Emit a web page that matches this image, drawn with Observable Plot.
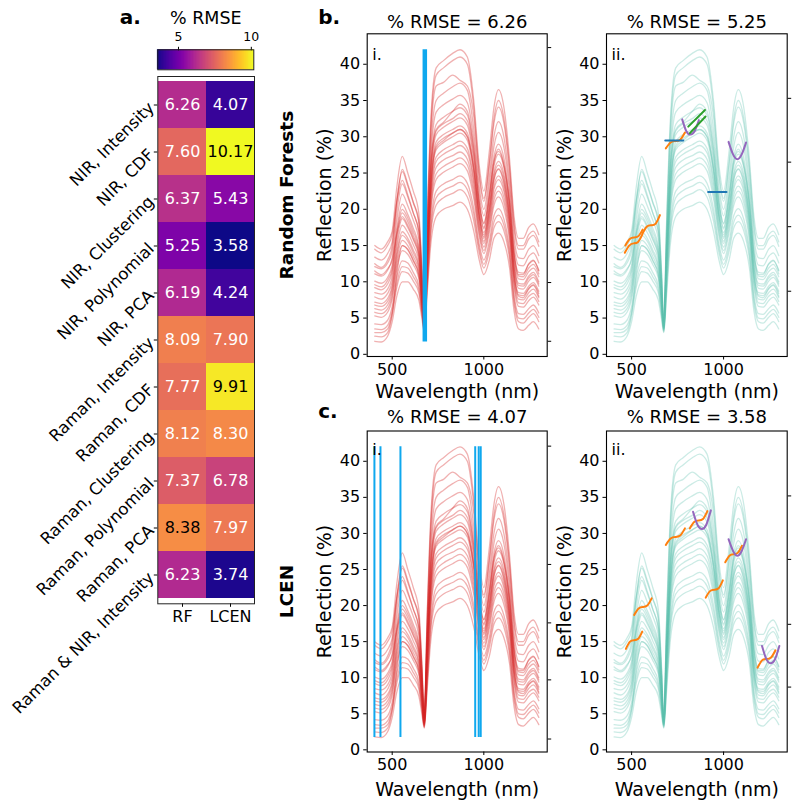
<!DOCTYPE html>
<html>
<head>
<meta charset="utf-8">
<script src="https://cdn.jsdelivr.net/npm/d3@7"></script>
<script src="https://cdn.jsdelivr.net/npm/@observablehq/plot@0.6"></script>
<style>
  body { margin: 0; background: white; }
  #fig { position: relative; width: 796px; height: 804px; font-family: "DejaVu Sans", sans-serif; }
  #fig > svg { position: absolute; }
</style>
</head>
<body>
<div id="fig"></div>
<script>
// ---------- heatmap data: % RMSE per feature set and model ----------
const methods = [
  "NIR, Intensity", "NIR, CDF", "NIR, Clustering", "NIR, Polynomial", "NIR, PCA",
  "Raman, Intensity", "Raman, CDF", "Raman, Clustering", "Raman, Polynomial", "Raman, PCA",
  "Raman & NIR, Intensity"
];
const models = ["RF", "LCEN"];
const rmseRF   = [6.26, 7.60, 6.37, 5.25, 6.19, 8.09, 7.77, 8.12, 7.37, 8.38, 6.23];
const rmseLCEN = [4.07, 10.17, 5.43, 3.58, 4.24, 7.90, 9.91, 8.30, 6.78, 7.97, 3.74];
const colorbarTicks = [5, 10];

// ---------- NIR reflection spectra (%) ----------
const wavelengths = [405, 440, 475, 500, 525, 555, 585, 615, 645, 662, 675, 690, 710, 740, 780, 830,
                     870, 910, 945, 975, 1000, 1030, 1055, 1080, 1110, 1140, 1165, 1190, 1215, 1245, 1270, 1300];
const spectra = [
  [15, 14.5, 15.5, 17, 23, 27.3, 25, 22.5, 19.5, 12, 4.5, 18, 32, 39.5, 40.5, 41.5, 42, 41, 35, 26, 22.5, 28, 34, 36.5, 34, 27, 19, 16, 16, 17.5, 18, 16.5],
  [12.5, 12, 13, 15, 21, 25.5, 23.5, 21, 18.5, 11.5, 4.4, 17.5, 31, 38.5, 39.5, 40.5, 41, 40, 34, 25, 21.5, 26.5, 32.5, 35, 32.5, 26, 18, 15, 15, 16.5, 17, 15.5],
  [13.4, 13, 13.9, 15.5, 21.2, 25.2, 23.2, 20.9, 18.1, 11.2, 4.3, 16.8, 30, 37, 37.5, 38.5, 37.8, 37, 32.8, 24.4, 21.1, 26.2, 31.8, 34.1, 31.8, 25.2, 17.4, 14.5, 14.5, 15.9, 16.4, 14.9],
  [12.1, 11.8, 12.6, 14.3, 19.7, 23.5, 21.7, 19.5, 16.9, 10.5, 4.2, 15.8, 28.3, 35, 36, 36.9, 37.4, 36.4, 31, 23.1, 20, 24.7, 30, 32.1, 29.9, 23.7, 16.1, 13.3, 13.2, 14.5, 15, 13.6],
  [11.1, 10.8, 11.6, 13.3, 18.5, 22.1, 20.5, 18.5, 15.9, 9.9, 4.1, 15, 26.9, 33.4, 34.4, 35.2, 35.7, 34.7, 29.6, 22.1, 19.1, 23.5, 28.6, 30.6, 28.5, 22.5, 15.1, 12.3, 12.2, 13.5, 14, 12.6],
  [14.5, 14, 15, 16.5, 21, 24, 22, 19.5, 17, 10.5, 4.2, 15, 26, 31, 32, 33.5, 34.5, 33.5, 28.5, 21, 18, 22, 26.5, 28, 26, 21, 14, 11, 11, 12.5, 13, 11.5],
  [10.1, 9.8, 10.6, 12.3, 17.3, 20.7, 19.3, 17.4, 14.9, 9.3, 3.9, 14.2, 25.5, 31.7, 32.7, 33.5, 34, 33, 28.2, 21.1, 18.1, 22.3, 27.2, 29, 27, 21.3, 14.1, 11.3, 11.2, 12.4, 12.9, 11.6],
  [9.6, 9.3, 10.2, 11.8, 16.8, 20, 18.8, 16.9, 14.5, 9.1, 3.9, 13.8, 25, 30.8, 31.8, 32.5, 33.2, 32.2, 27.5, 20.5, 17.5, 21.5, 26.5, 28.3, 26.2, 20.8, 13.6, 10.8, 10.7, 11.9, 12.4, 11.1],
  [9.2, 8.9, 9.7, 11.4, 16.3, 19.5, 18.3, 16.4, 14.1, 8.9, 3.8, 13.5, 24.4, 30.3, 31.3, 32.1, 32.6, 31.6, 26.9, 20.2, 17.3, 21.3, 25.9, 27.6, 25.7, 20.3, 13.2, 10.4, 10.3, 11.4, 11.9, 10.7],
  [8.5, 8.3, 9, 10.8, 15.5, 18.7, 17.5, 15.8, 13.5, 8.5, 3.8, 13, 23.5, 29.3, 30.3, 31, 31.5, 30.5, 26, 19.5, 16.8, 20.5, 25, 26.6, 24.8, 19.5, 12.5, 9.8, 9.7, 10.8, 11.3, 10],
  [11.5, 11, 11.8, 13, 16.5, 19, 17.8, 16, 13.8, 8.6, 3.8, 12.8, 23, 28.8, 29.8, 30.5, 31, 30, 25.6, 19.2, 16.5, 20.2, 24.6, 26.1, 24.3, 19.2, 12.2, 9.5, 9.4, 10.5, 11, 9.7],
  [2.5, 2.4, 3, 5.5, 11, 15, 14.5, 13, 11, 7, 3.5, 12, 22.5, 28.5, 29.5, 30.5, 31, 30, 25.5, 19, 16, 19.5, 24, 25.5, 23.5, 18.5, 11, 8, 7.8, 9, 9.5, 8],
  [7.9, 7.6, 8.4, 10.1, 14.8, 17.8, 16.8, 15.1, 12.9, 8.2, 3.7, 12.5, 22.7, 28.2, 29.2, 30, 30.5, 29.5, 25.1, 18.9, 16.2, 19.8, 24.1, 25.6, 23.8, 18.8, 11.9, 9.1, 9, 10.1, 10.6, 9.4],
  [7.2, 7, 7.7, 9.5, 14, 16.9, 16, 14.4, 12.3, 7.8, 3.6, 12, 21.8, 27.2, 28.2, 28.9, 29.4, 28.4, 24.2, 18.2, 15.6, 19, 23.2, 24.6, 22.9, 18, 11.2, 8.5, 8.4, 9.4, 9.9, 8.7],
  [6.8, 6.6, 7.3, 9.1, 13.6, 16.4, 15.6, 14, 12, 7.6, 3.6, 11.8, 21.3, 26.6, 27.6, 28.3, 28.8, 27.8, 23.7, 17.8, 15.3, 18.6, 22.7, 24.1, 22.4, 17.6, 10.9, 8.2, 8.1, 9.1, 9.6, 8.4],
  [6.3, 6.1, 6.8, 8.6, 13, 15.7, 15, 13.5, 11.5, 7.3, 3.5, 11.3, 20.6, 25.8, 26.8, 27.4, 27.9, 26.9, 22.9, 17.3, 14.8, 18, 21.9, 23.2, 21.6, 17, 10.3, 7.6, 7.5, 8.5, 9, 7.8],
  [5.8, 5.6, 6.3, 8.1, 12.4, 15, 14.4, 12.9, 11, 7, 3.4, 10.9, 19.9, 24.9, 25.9, 26.6, 27.1, 26.1, 22.2, 16.8, 14.3, 17.4, 21.2, 22.5, 20.9, 16.4, 9.8, 7.1, 7, 8, 8.4, 7.3],
  [5.3, 5.1, 5.8, 7.6, 11.8, 14.3, 13.8, 12.4, 10.5, 6.8, 3.4, 10.5, 19.3, 24.1, 25.1, 25.8, 26.3, 25.3, 21.5, 16.3, 13.9, 16.8, 20.5, 21.7, 20.1, 15.8, 9.3, 6.6, 6.5, 7.4, 7.9, 6.8],
  [4.2, 4.1, 4.7, 6.6, 10.6, 12.9, 12.6, 11.3, 9.5, 6.2, 3.3, 9.7, 17.9, 22.5, 23.5, 24.1, 24.6, 23.6, 20.1, 15.2, 13, 15.6, 19.1, 20.1, 18.6, 14.6, 8.2, 5.6, 5.5, 6.3, 6.8, 5.7],
  [3.5, 3.4, 4, 6, 9.8, 12.1, 11.9, 10.7, 9, 5.9, 3.2, 9.2, 17.1, 21.6, 22.6, 23.2, 23.7, 22.7, 19.3, 14.6, 12.4, 14.9, 18.2, 19.2, 17.8, 13.9, 7.6, 5, 4.9, 5.7, 6.2, 5.1],
  [3, 3, 3.5, 5.5, 9.2, 11.4, 11.2, 10.1, 8.5, 5.6, 3.1, 8.8, 16.4, 20.6, 21.6, 22.2, 22.7, 21.7, 18.4, 14, 11.9, 14.2, 17.4, 18.3, 17, 13.2, 7, 4.5, 4.3, 5.1, 5.6, 4.5],
  [1.8, 1.7, 2.5, 4.5, 8, 10, 10, 9, 7.5, 5, 3, 8, 15, 19, 20, 20.5, 21, 20, 17, 13, 11, 13, 16, 16.7, 15.5, 12, 6, 3.5, 3.3, 4, 4.5, 3.5]
];

// wavelengths (nm) of the features selected by each model
const selectedRF   = [678];
const selectedLCEN = [403, 436, 545, 953, 972, 983];

// local polynomial features shown on the polynomial panels
const fitsRF = [
  {kind: "cubic", wl: [463, 487, 511, 535, 558], r: [14.0, 15.0, 15.3, 15.5, 16.5]},
  {kind: "cubic", wl: [466, 490, 513, 537, 560], r: [15.0, 15.9, 16.1, 16.3, 17.2]},
  {kind: "cubic", wl: [558, 582, 606, 630, 654], r: [16.6, 17.6, 17.8, 18.0, 19.2]},
  {kind: "cubic", wl: [686, 712, 738, 764, 790], r: [28.4, 29.2, 29.4, 29.6, 30.6]},
  {kind: "constant", wl: [683, 781], r: [29.5, 29.5]},
  {kind: "quadratic", wl: [775, 797, 820, 843, 866], r: [32.4, 30.8, 30.3, 30.8, 32.3]},
  {kind: "linear", wl: [808, 899], r: [31.4, 33.7]},
  {kind: "linear", wl: [817, 902], r: [30.5, 32.8]},
  {kind: "quadratic", wl: [1027, 1051, 1075, 1099, 1122], r: [29.3, 27.6, 26.9, 27.6, 29.2]},
  {kind: "constant", wl: [916, 1016], r: [22.4, 22.4]}
];
const fitsLCEN = [
  {kind: "cubic", wl: [469, 491, 513, 536, 558], r: [14.0, 15.0, 15.2, 15.4, 16.4]},
  {kind: "cubic", wl: [514, 538, 561, 585, 609], r: [18.7, 19.6, 19.8, 20.0, 21.0]},
  {kind: "cubic", wl: [686, 712, 738, 764, 790], r: [28.4, 29.3, 29.5, 29.7, 30.7]},
  {kind: "cubic", wl: [816, 840, 864, 888, 912], r: [30.7, 31.6, 31.8, 32.0, 33.1]},
  {kind: "quadratic", wl: [834, 858, 882, 906, 931], r: [33.0, 31.2, 30.6, 31.2, 33.2]},
  {kind: "cubic", wl: [903, 926, 950, 973, 996], r: [21.1, 22.0, 22.2, 22.4, 23.5]},
  {kind: "cubic", wl: [1009, 1032, 1054, 1077, 1100], r: [26.0, 26.9, 27.1, 27.3, 28.3]},
  {kind: "quadratic", wl: [1027, 1051, 1075, 1099, 1122], r: [29.2, 27.6, 26.9, 27.6, 29.2]},
  {kind: "cubic", wl: [1185, 1209, 1233, 1258, 1282], r: [11.4, 12.4, 12.6, 12.8, 13.8]},
  {kind: "quadratic", wl: [1209, 1232, 1255, 1280, 1303], r: [14.4, 12.6, 12.0, 12.6, 14.4]}
];

// secondary (unlabelled) axis ticks on the right of each panel
const rightTicksB1 = [1.8, 9.9, 17.9, 26.0, 34.1, 42.3];
const rightTicksB2 = [8.7, 17.6, 26.5, 35.3];
const rightTicksC1 = [1.5, 9.7, 17.6, 25.7, 33.8, 42.1];
const rightTicksC2 = [8.7, 17.4, 26.4, 35.2];

const yTicks = [0, 5, 10, 15, 20, 25, 30, 35, 40];
const xTicks = [500, 1000];

// ---------- shared settings ----------
const FONT = "DejaVu Sans, sans-serif";
const baseStyle = {background: "none", overflow: "visible", fontFamily: FONT, color: "black"};
const fig = document.getElementById("fig");
function place(svg, left, top) {
  svg.style.left = left + "px";
  svg.style.top = top + "px";
  fig.appendChild(svg);
}

const allRmse = [...rmseRF, ...rmseLCEN];
const [lo, hi] = d3.extent(allRmse);
const colorOpts = {type: "linear", scheme: "plasma", domain: [lo, hi]};

// ---------- a. heatmap ----------
const cells = methods.flatMap((m, i) => [
  {method: m, model: "RF", v: rmseRF[i]},
  {method: m, model: "LCEN", v: rmseLCEN[i]}
]);
const darkText = d => d.v > 8.35;

place(Plot.plot({
  width: 270, height: 804,
  marginLeft: 157.3, marginRight: 16, marginTop: 76, marginBottom: 200.7,
  style: baseStyle,
  x: {domain: models, padding: 0, axis: null},
  y: {domain: methods, padding: 0, axis: null},
  color: colorOpts,
  marks: [
    Plot.cell(cells, {x: "model", y: "method", fill: "v", inset: 0}),
    Plot.text(cells.filter(d => !darkText(d)), {x: "model", y: "method", text: d => d.v.toFixed(2), fill: "white", fontSize: 16}),
    Plot.text(cells.filter(darkText), {x: "model", y: "method", text: d => d.v.toFixed(2), fill: "black", fontSize: 16}),
    Plot.axisY({anchor: "left", tickSize: 3.5, tickPadding: 3, tickRotate: -45, fontSize: 16.5, label: null}),
    Plot.axisX({anchor: "bottom", tickSize: 3.5, tickPadding: 3.5, fontSize: 16, label: null}),
    Plot.frame({stroke: "#222", strokeWidth: 1}),
    Plot.text(["a."], {frameAnchor: "top-left", dx: -38, dy: -53, lineAnchor: "bottom", textAnchor: "start", fontSize: 20, fontWeight: "bold"})
  ]
}), 0, 0);

// colour bar
const nStops = 160;
const stopStep = (hi - lo) / nStops;
const stops = d3.range(nStops).map(i => lo + i * stopStep);
place(Plot.plot({
  width: 270, height: 72,
  marginLeft: 157.3, marginRight: 16.7, marginTop: 49.3, marginBottom: 2.7,
  style: baseStyle,
  x: {domain: [lo, hi], axis: null},
  y: {domain: [0, 1], axis: null},
  color: colorOpts,
  marks: [
    Plot.rect(stops, {x1: d => d, x2: d => d + stopStep, y1: 0, y2: 1, fill: d => d + stopStep / 2, insetLeft: -0.4, insetRight: -0.4}),
    Plot.axisX(colorbarTicks, {anchor: "top", tickSize: 3.5, tickPadding: 5, fontSize: 12.5, label: null}),
    Plot.frame({stroke: "#222", strokeWidth: 1}),
    Plot.text(["% RMSE"], {frameAnchor: "top", dy: -31, lineAnchor: "middle", fontSize: 17.5})
  ]
}), 0, 0);

// ---------- b./c. spectra panels ----------
const spectraRows = spectra.flatMap((s, id) => s.map((r, j) => ({id, wl: wavelengths[j], r})));
const rMin = d3.min(spectra.flat());
const rMax = d3.max(spectra.flat());
const fitKinds = ["cubic", "quadratic", "linear", "constant"];
const fitColors = ["#ff7f0e", "#9467bd", "#2ca02c", "#1f77b4"];

function spectraPanel(o) {
  const marks = [
    Plot.line(spectraRows, {x: "wl", y: "r", z: "id", stroke: o.stroke, strokeOpacity: o.opacity,
                            strokeWidth: 1.3, curve: "monotone-x"})
  ];
  if (o.selected) {
    marks.push(Plot.ruleX(o.selected, {x: d => d, y1: rMin, y2: rMax, stroke: "#0fa8ee", strokeWidth: o.ruleWidth}));
  }
  if (o.fits) {
    const fitRows = o.fits.flatMap((f, id) => f.wl.map((w, j) => ({id, kind: f.kind, wl: w, r: f.r[j]})));
    marks.push(Plot.line(fitRows, {x: "wl", y: "r", z: "id", stroke: "kind", strokeWidth: 2, curve: "natural"}));
  }
  marks.push(
    Plot.frame({stroke: "black", strokeWidth: 1.1}),
    Plot.axisY({ticks: yTicks, tickSize: 3.5, tickPadding: 3.5, fontSize: 16, label: null}),
    Plot.axisX({ticks: xTicks, tickSize: 3.5, tickPadding: 3.5, tickFormat: d => String(d), fontSize: 16, label: null}),
    Plot.axisY(o.rightTicks, {anchor: "right", tickSize: 3.5, tickFormat: () => "", label: null}),
    Plot.text([o.title], {frameAnchor: "top", dy: o.titleDy, lineAnchor: "middle", fontSize: 18}),
    Plot.text(["Reflection (%)"], {frameAnchor: "left", rotate: -90, dx: -42, textAnchor: "middle", lineAnchor: "middle", fontSize: 19}),
    Plot.text(["Wavelength (nm)"], {frameAnchor: "bottom", dy: o.xLabelDy, lineAnchor: "middle", fontSize: 19}),
    Plot.text([o.tag], {frameAnchor: "top-left", dx: 5, dy: o.tagDy, lineAnchor: "top", textAnchor: "start", fontSize: 16})
  );
  if (o.extra) marks.push(...o.extra);
  return Plot.plot({
    width: o.width, height: o.height,
    marginLeft: o.mL, marginRight: o.mR, marginTop: o.mT, marginBottom: o.mB,
    style: baseStyle,
    x: {domain: [363.6, 1345.8], axis: null},
    y: {domain: [-0.3, 44.2], axis: null},
    color: {domain: fitKinds, range: fitColors},
    marks
  });
}

const rmseTitle = v => `% RMSE = ${v.toFixed(2)}`;
const rowLabel = text =>
  Plot.text([text], {frameAnchor: "left", dx: -80, rotate: -90, textAnchor: "middle", lineAnchor: "middle", fontSize: 18.5, fontWeight: "bold"});

// b.i  Random Forests, NIR intensity
place(spectraPanel({
  width: 280, height: 400, mL: 96.7, mR: 3.3, mT: 33.3, mB: 44,
  stroke: "#d62728", opacity: 0.36, selected: selectedRF, ruleWidth: 4.5,
  rightTicks: rightTicksB1, title: rmseTitle(rmseRF[0]), titleDy: -11.5, xLabelDy: 35, tag: "i.", tagDy: 15,
  extra: [
    rowLabel("Random Forests"),
    Plot.text(["b."], {frameAnchor: "top-left", dx: -49, dy: -10.3, lineAnchor: "bottom", textAnchor: "start", fontSize: 20, fontWeight: "bold"})
  ]
}), 270, 0);

// b.ii Random Forests, NIR polynomial
place(spectraPanel({
  width: 246, height: 400, mL: 56, mR: 9.3, mT: 33.3, mB: 44,
  stroke: "#5cc1ad", opacity: 0.32, fits: fitsRF,
  rightTicks: rightTicksB2, title: rmseTitle(rmseRF[3]), titleDy: -11.5, xLabelDy: 35, tag: "ii.", tagDy: 15
}), 550, 0);

// c.i  LCEN, NIR intensity
place(spectraPanel({
  width: 280, height: 404, mL: 96.7, mR: 3.3, mT: 30.5, mB: 52.5,
  stroke: "#d62728", opacity: 0.36, selected: selectedLCEN, ruleWidth: 2,
  rightTicks: rightTicksC1, title: rmseTitle(rmseLCEN[0]), titleDy: -14, xLabelDy: 37.5, tag: "i.", tagDy: 13,
  extra: [
    rowLabel("LCEN"),
    Plot.text(["c."], {frameAnchor: "top-left", dx: -49, dy: -13.5, lineAnchor: "bottom", textAnchor: "start", fontSize: 20, fontWeight: "bold"})
  ]
}), 270, 400);

// c.ii LCEN, NIR polynomial
place(spectraPanel({
  width: 246, height: 404, mL: 56, mR: 9.3, mT: 30.5, mB: 52.5,
  stroke: "#5cc1ad", opacity: 0.32, fits: fitsLCEN,
  rightTicks: rightTicksC2, title: rmseTitle(rmseLCEN[3]), titleDy: -14, xLabelDy: 37.5, tag: "ii.", tagDy: 13
}), 550, 400);
</script>
</body>
</html>
